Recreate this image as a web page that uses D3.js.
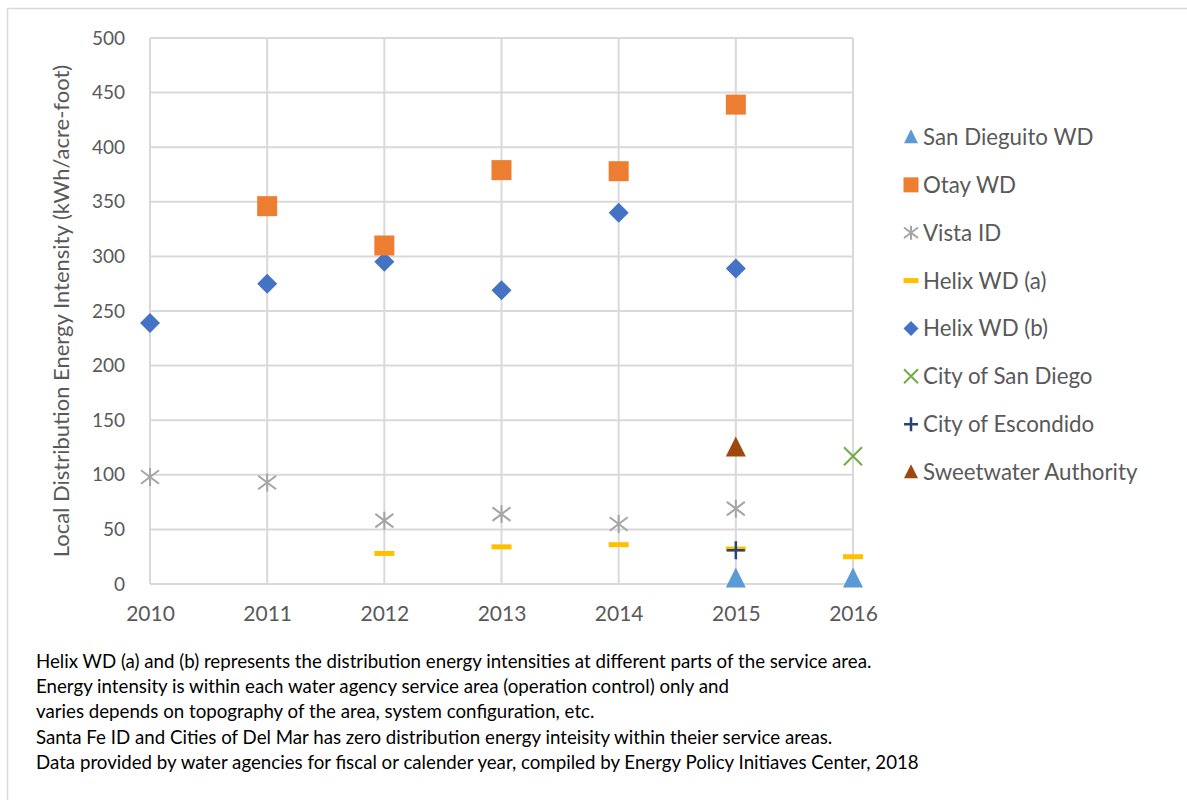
<!DOCTYPE html>
<html><head><meta charset="utf-8">
<script src="https://cdn.jsdelivr.net/npm/d3@7"></script>
<style>body{margin:0;background:#fff}svg{display:block}text{font-family:Lato,"Open Sans",sans-serif}</style>
</head><body><svg id="c" width="1187" height="800"></svg>
<script>
const years = [2010, 2011, 2012, 2013, 2014, 2015, 2016];
const yTicks = [0, 50, 100, 150, 200, 250, 300, 350, 400, 450, 500];
const seriesNames = ["San Dieguito WD","Otay WD","Vista ID","Helix WD (a)","Helix WD (b)","City of San Diego","City of Escondido","Sweetwater Authority"];
const sanDieguito = [[2015,5],[2016,5]];
const otay = [[2011,346],[2012,310],[2013,379],[2014,378],[2015,439]];
const vista = [[2010,98],[2011,93],[2012,58],[2013,64],[2014,55],[2015,69]];
const helixA = [[2012,28],[2013,34],[2014,36],[2015,32],[2016,25]];
const helixB = [[2010,239],[2011,275],[2012,295],[2013,269],[2014,340],[2015,289]];
const citySD = [[2016,117]];
const escondido = [[2015,31]];
const sweetwater = [[2015,125]];
const notes = [
 "Helix WD (a) and (b) represents the distribution energy intensities at different parts of the service area.",
 "Energy intensity is within each water agency service area (operation control) only and",
 "varies depends on topography of the area, system configuration, etc.",
 "Santa Fe ID and Cities of Del Mar has zero distribution energy inteisity within theier service areas.",
 "Data provided by water agencies for fiscal or calender year, compiled by Energy Policy Initiaves Center, 2018"
];

const svg = d3.select("#c");
svg.append("rect").attr("x",7.5).attr("y",8.5).attr("width",1200).attr("height",820).attr("fill","#fff").attr("stroke","#d9d9d9").attr("stroke-width",1.5);

const x = d3.scaleLinear().domain([2010,2016]).range([150,853]);
const y = d3.scaleLinear().domain([0,500]).range([584,38]);
const grid = "#d9d9d9";
const txt = "#595959";

// gridlines
const g = svg.append("g");
g.selectAll(".hg").data(yTicks).join("line").attr("x1",x(2010)).attr("x2",x(2016)).attr("y1",d=>y(d)).attr("y2",d=>y(d)).attr("stroke",grid).attr("stroke-width",2);
g.selectAll(".vg").data(years).join("line").attr("x1",d=>x(d)).attr("x2",d=>x(d)).attr("y1",y(0)).attr("y2",y(500)).attr("stroke",grid).attr("stroke-width",2);

// axes
const yAxis = svg.append("g").attr("transform",`translate(${x(2010)},0)`).call(d3.axisLeft(y).tickValues(yTicks).tickSize(0).tickPadding(25));
yAxis.select(".domain").remove();
yAxis.selectAll("text").attr("font-size",19).attr("fill",txt).attr("font-family","Lato");
const xAxis = svg.append("g").attr("transform",`translate(0,${y(0)})`).call(d3.axisBottom(x).tickValues(years).tickFormat(d3.format("d")).tickSize(0).tickPadding(22));
xAxis.select(".domain").remove();
xAxis.selectAll("text").attr("font-size",21).attr("fill",txt).attr("font-family","Lato");

svg.append("text").attr("transform",`translate(69,${(y(0)+y(500))/2}) rotate(-90)`).attr("text-anchor","middle").attr("font-size",22).attr("fill",txt).text("Local Distribution Energy Intensity (kWh/acre-foot)");

// marker drawers
function triangle(sel,color,s){sel.append("path").attr("d",`M0,${-s*0.55}L${s/2},${s*0.45}L${-s/2},${s*0.45}Z`).attr("fill",color);}
function square(sel,color,s){sel.append("rect").attr("x",-s/2).attr("y",-s/2).attr("width",s).attr("height",s).attr("fill",color);}
function diamond(sel,color,s){sel.append("path").attr("d",`M0,${-s/2}L${s/2},0L0,${s/2}L${-s/2},0Z`).attr("fill",color);}
function star(sel,color,s){const r=s/2;sel.append("path").attr("d",`M${-r},${-r*0.75}L${r},${r*0.75}M${-r},${r*0.75}L${r},${-r*0.75}M0,${-r}L0,${r}`).attr("stroke",color).attr("stroke-width",2).attr("fill","none");}
function dash(sel,color,s){sel.append("rect").attr("x",-s/2).attr("y",-2.5).attr("width",s).attr("height",5).attr("fill",color);}
function cross(sel,color,s){const r=s/2;sel.append("path").attr("d",`M${-r},${-r}L${r},${r}M${-r},${r}L${r},${-r}`).attr("stroke",color).attr("stroke-width",2).attr("fill","none");}
function plus(sel,color,s){const r=s/2;sel.append("path").attr("d",`M${-r},0L${r},0M0,${-r}L0,${r}`).attr("stroke",color).attr("stroke-width",2.5).attr("fill","none");}

const series = [
 {name:seriesNames[0],data:sanDieguito,draw:triangle,color:"#5B9BD5",size:20,ls:14},
 {name:seriesNames[1],data:otay,draw:square,color:"#ED7D31",size:20,ls:15},
 {name:seriesNames[2],data:vista,draw:star,color:"#A5A5A5",size:18,ls:14},
 {name:seriesNames[3],data:helixA,draw:dash,color:"#FFC000",size:20,ls:15},
 {name:seriesNames[4],data:helixB,draw:diamond,color:"#4472C4",size:20,ls:15},
 {name:seriesNames[5],data:citySD,draw:cross,color:"#70AD47",size:18,ls:14},
 {name:seriesNames[6],data:escondido,draw:plus,color:"#264478",size:18,ls:14},
 {name:seriesNames[7],data:sweetwater,draw:triangle,color:"#9E480E",size:20,ls:14}
];
const drawOrder = [4,1,2,3,7,5,6,0];
drawOrder.forEach(i=>{
  const s = series[i];
  s.data.forEach(([yr,v])=>{
    const m = svg.append("g").attr("transform",`translate(${x(yr)},${y(v)})`);
    s.draw(m,s.color,s.size);
  });
});

// legend
const legY = d3.scalePoint().domain(seriesNames).range([137,472]);
series.forEach(s=>{
  const gl = svg.append("g").attr("transform",`translate(911,${legY(s.name)})`);
  s.draw(gl,s.color,s.ls);
  gl.append("text").attr("x",12).attr("y",0).attr("dy","0.36em").attr("font-size",22.3).attr("fill",txt).text(s.name);
});

// notes
svg.selectAll(".note").data(notes).join("text").attr("x",36).attr("y",(d,i)=>668+i*25.2).attr("font-size",18.7).attr("fill","#000").text(d=>d);
</script></body></html>
